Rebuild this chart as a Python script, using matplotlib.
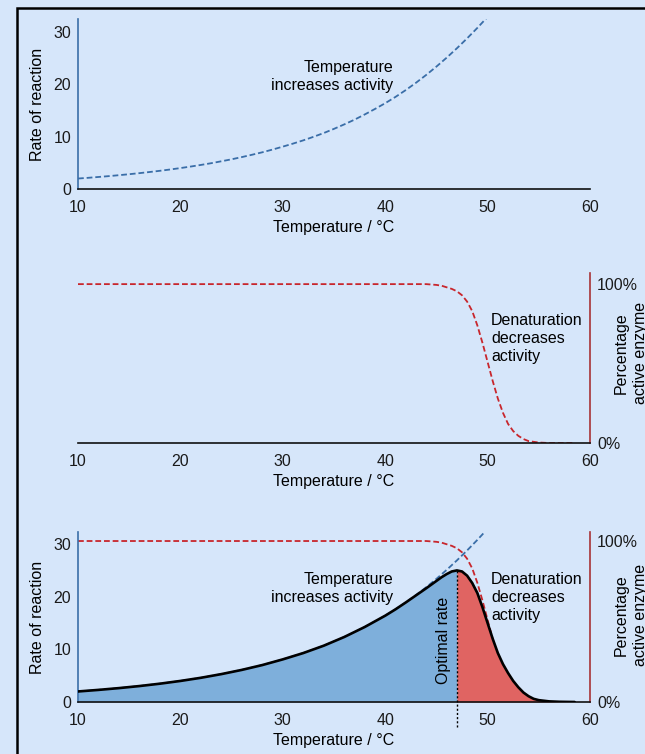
import numpy as np
import matplotlib
matplotlib.use("Agg")
import matplotlib.pyplot as plt
from matplotlib.patches import Rectangle

plt.rcParams['font.family'] = ['Liberation Sans', 'DejaVu Sans']
plt.rcParams['font.size'] = 11.5

# values
# rate rising with temperature (dashed blue)
temp_rate = [10, 11, 12, 13, 14, 15, 16, 17, 18, 19, 20, 21, 22, 23, 24, 25, 26, 27, 28, 29,
             30, 31, 32, 33, 34, 35, 36, 37, 38, 39, 40, 41, 42, 43, 44, 45, 46, 47, 48, 49,
             50]
rate_temp = [2.0, 2.14, 2.3, 2.46, 2.64, 2.83, 3.03, 3.25, 3.48, 3.73,
             4.0, 4.29, 4.6, 4.93, 5.3, 5.68, 6.1, 6.55, 7.02, 7.54,
             8.1, 8.68, 9.3, 9.98, 10.7, 11.5, 12.35, 13.25, 14.25, 15.3,
             16.4, 17.6, 18.9, 20.3, 21.8, 23.4, 25.1, 26.9, 28.8, 30.8,
             32.9]

# percentage of active enzyme (dashed red)
temp_active = [10, 20, 30, 40, 44, 45, 45.5, 46, 46.5, 47, 47.5, 48, 48.5, 49, 49.5,
               50, 50.5, 51, 51.5, 52, 52.5, 53, 53.5, 54, 55, 56, 58.5]
active = [100, 100, 100, 100, 100, 99.5, 99, 98, 97, 95.5, 93, 89, 83, 74, 63,
          51, 39, 28, 19, 12, 7.5, 4.5, 2.5, 1.2, 0.3, 0, 0]

# observed rate of reaction (black curve)
temp_obs = [10, 12, 14, 16, 18, 20, 22, 24, 26, 28, 30, 32, 34, 36, 38, 40, 41, 42, 43,
            44, 45, 45.5, 46, 46.5, 47, 47.5, 48, 48.5, 49, 49.5, 50, 50.5, 51, 51.5,
            52, 52.5, 53, 53.5, 54, 54.5, 55, 56, 57, 58, 58.5]
rate_obs = [2.0, 2.3, 2.64, 3.03, 3.48, 4.0, 4.6, 5.3, 6.1, 7.02, 8.1, 9.3, 10.7, 12.35,
            14.25, 16.4, 17.6, 18.9, 20.25, 21.6, 23.0, 23.7, 24.3, 24.8, 25.0, 24.8,
            24.0, 22.6, 20.7, 18.0, 15.0, 12.0, 9.3, 7.2, 5.5, 4.0, 2.8, 1.8, 1.1, 0.6,
            0.35, 0.12, 0.04, 0.01, 0.0]
t_opt = 47

xticks = [10, 20, 30, 40, 50, 60]
yticks = [0, 10, 20, 30]

bg = '#d6e6fa'
blue_line = '#3a6ea8'
red_line = '#c8262c'
blue_axis = '#3a6ea8'
red_axis = '#a83236'
blue_fill = '#7eafdb'
red_fill = '#e06462'

W, H = 645, 754
fig = plt.figure(figsize=(W / 100, H / 100), dpi=100, facecolor=bg)

def fx(px):
    return px / W

def fy(py):
    return 1 - py / H

left = fx(78)
width = fx(590) - fx(78)
ax_h = 170 / H

ax1 = fig.add_axes([left, fy(189), width, ax_h])
ax2 = fig.add_axes([left, fy(443), width, ax_h])
ax3 = fig.add_axes([left, fy(702), width, ax_h])
ax3r = ax3.twinx()

for a in [ax1, ax2, ax3, ax3r]:
    a.set_facecolor('none')
    a.set_xlim(10, 60)
    for s in a.spines.values():
        s.set_visible(False)
        s.set_linewidth(1.2)
    a.tick_params(length=0, labelsize=11.5, colors='#1a1a1a')

for a in [ax1, ax2, ax3]:
    a.spines['bottom'].set_visible(True)
    a.spines['bottom'].set_color('#111111')
    a.set_xticks(xticks)
    a.tick_params(axis='x', pad=8)
    a.set_xlabel('Temperature / °C', labelpad=3.5)

dash_b = (0, (3.2, 1.6))
dash_r = (0, (3.2, 1.6))

# panel 1
ax1.set_ylim(0, 32.5)
ax1.spines['left'].set_visible(True)
ax1.spines['left'].set_color(blue_axis)
ax1.set_yticks(yticks)
ax1.tick_params(axis='y', pad=5)
ax1.set_ylabel('Rate of reaction', labelpad=6)
ax1.plot(temp_rate, rate_temp, color=blue_line, lw=1.3, ls=dash_b)
ax1.text(40.76, 21.6, 'Temperature\nincreases activity', ha='right', va='center',
         multialignment='right', linespacing=1.25)

# panel 2
ax2.set_ylim(0, 107)
ax2.spines['right'].set_visible(True)
ax2.spines['right'].set_color(red_axis)
ax2.yaxis.tick_right()
ax2.set_yticks([0, 100])
ax2.set_yticklabels(['0%', '100%'])
ax2.tick_params(axis='y', pad=5)
ax2.plot(temp_active, active, color=red_line, lw=1.3, ls=dash_r)
ax2.text(50.33, 66, 'Denaturation\ndecreases\nactivity', ha='left', va='center',
         linespacing=1.25)
ax2.text(1.08, 0.53, 'Percentage\nactive enzyme', transform=ax2.transAxes,
         rotation=90, ha='center', va='center', linespacing=1.3, clip_on=False)

# panel 3
ax3.set_ylim(0, 32.3)
ax3.spines['left'].set_visible(True)
ax3.spines['left'].set_color(blue_axis)
ax3.set_yticks(yticks)
ax3.tick_params(axis='y', pad=5)
ax3.set_ylabel('Rate of reaction', labelpad=6)

ax3r.set_ylim(0, 105.6)
ax3r.spines['right'].set_visible(True)
ax3r.spines['right'].set_color(red_axis)
ax3r.set_yticks([0, 100])
ax3r.set_yticklabels(['0%', '100%'])
ax3r.tick_params(axis='y', pad=5)
ax3r.plot(temp_active, active, color=red_line, lw=1.3, ls=dash_r, zorder=1)
ax3r.text(1.08, 0.51, 'Percentage\nactive enzyme', transform=ax3r.transAxes,
          rotation=90, ha='center', va='center', linespacing=1.3, clip_on=False)

ax3.set_zorder(ax3r.get_zorder() + 1)
t = np.array(temp_obs)
r = np.array(rate_obs)
ax3.plot(temp_rate, rate_temp, color=blue_line, lw=1.3, ls=dash_b, zorder=1)
ax3.fill_between(t, 0, r, where=t <= t_opt, color=blue_fill, lw=0, zorder=2)
ax3.fill_between(t, 0, r, where=t >= t_opt, color=red_fill, lw=0, zorder=2)
ax3.plot(t, r, color='black', lw=1.9, zorder=3, solid_capstyle='round',
         solid_joinstyle='round')
peak = rate_obs[temp_obs.index(t_opt)]
ax3.plot([t_opt, t_opt], [-4.7, peak], color='black', lw=1.0, ls=(0, (1.5, 1.5)),
         zorder=4, clip_on=False)
ax3.text(45.7, 11.8, 'Optimal rate', rotation=90, ha='center', va='center')
ax3.text(40.76, 21.5, 'Temperature\nincreases activity', ha='right', va='center',
         multialignment='right', linespacing=1.25)
ax3.text(50.33, 19.9, 'Denaturation\ndecreases\nactivity', ha='left', va='center',
         linespacing=1.25)

# outer frame, running off the right and bottom edges
frame = Rectangle((fx(17), -0.05), 1.0, fy(7.5) + 0.05, transform=fig.transFigure,
                  fill=False, edgecolor='black', lw=1.8)
fig.patches.append(frame)

fig.savefig('out.png', dpi=100, facecolor=bg)
